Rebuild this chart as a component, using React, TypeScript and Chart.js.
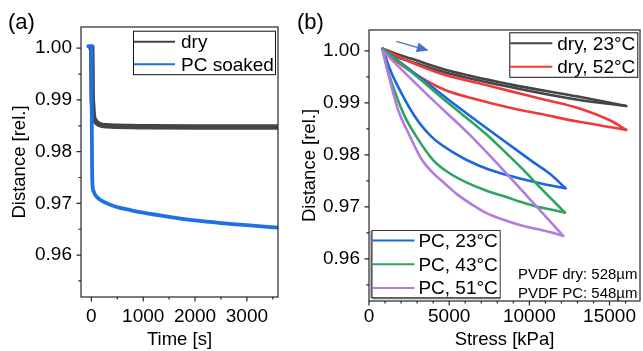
import React, { useEffect, useRef } from 'react';
import { Chart, registerables } from 'chart.js';

Chart.register(...registerables);

const FONT = '"Liberation Sans", Arial, Helvetica, sans-serif';

// ---------------- Panel (a): distance vs time ----------------
const timeDry = [-5, 8, 15, 25, 40, 60, 104, 168, 300, 490, 800, 1133, 2000, 3000, 3600];
const distDry = [1.0, 1.0, 0.9915, 0.989, 0.9868, 0.9862, 0.9856, 0.9852, 0.985, 0.9849, 0.98485, 0.9848, 0.98475, 0.98475, 0.98475];
const timePC = [-60, 4, 8, 15, 27, 50, 71, 110, 168, 300, 490, 750, 1003, 1500, 2000, 2500, 3000, 3600];
const distPC = [1.0004, 1.0004, 0.985, 0.976, 0.973, 0.9722, 0.9717, 0.9712, 0.9707, 0.97, 0.9693, 0.9687, 0.9682, 0.9674, 0.9667, 0.9662, 0.9658, 0.9653];

const timeTicks = [0, 1000, 2000, 3000];
const timeMinor = [500, 1500, 2500, 3500];
const distTicks = [0.96, 0.97, 0.98, 0.99, 1.0];
const distMinor = [0.955, 0.965, 0.975, 0.985, 0.995];

// ---------------- Panel (b): distance vs stress (hysteresis loops) ----------------
const dry23UpStress = [855, 2000, 2620, 4705, 8865, 13030, 16040];
const dry23UpDist = [1.0004, 0.9991, 0.9985, 0.9964, 0.9935, 0.9912, 0.9894];
const dry23DownStress = [855, 2000, 2620, 4705, 8865, 13030, 16040];
const dry23DownDist = [1.0004, 0.9985, 0.9979, 0.9959, 0.993, 0.9906, 0.9894];

const dry52UpStress = [855, 1500, 2620, 4705, 6785, 8865, 10950, 13030, 15110, 16040];
const dry52UpDist = [1.0004, 0.9994, 0.9978, 0.9954, 0.9938, 0.9922, 0.9906, 0.989, 0.9865, 0.9848];
const dry52DownStress = [855, 1500, 2640, 4705, 6785, 8865, 10950, 13030, 15110, 16040];
const dry52DownDist = [1.0004, 0.9985, 0.996, 0.9925, 0.9906, 0.989, 0.9877, 0.9864, 0.9853, 0.9848];

const pc23UpStress = [855, 3000, 5000, 7830, 10240, 11300, 12250];
const pc23UpDist = [1.0004, 0.9953, 0.9905, 0.984, 0.9786, 0.9763, 0.9736];
const pc23DownStress = [855, 1300, 1810, 2850, 3890, 5350, 6800, 8160, 10000, 11000, 12250];
const pc23DownDist = [1.0004, 0.9965, 0.9931, 0.9874, 0.9835, 0.9803, 0.978, 0.9765, 0.975, 0.9743, 0.9736];

const pc43UpStress = [855, 3000, 5000, 7300, 8600, 9600, 10800, 12220];
const pc43UpDist = [1.0004, 0.995, 0.9898, 0.984, 0.9802, 0.9772, 0.9733, 0.9689];
const pc43DownStress = [855, 1100, 1500, 2230, 2935, 4000, 5000, 6000, 7330, 8470, 9410, 10500, 11490, 12220];
const pc43DownDist = [1.0004, 0.997, 0.9931, 0.9874, 0.9836, 0.979, 0.9765, 0.9748, 0.9731, 0.972, 0.971, 0.97, 0.9694, 0.9689];

const pc51UpStress = [855, 3890, 6270, 8160, 10000, 12110];
const pc51UpDist = [1.0, 0.9908, 0.9839, 0.9778, 0.9716, 0.9644];
const pc51DownStress = [855, 1190, 1810, 2520, 3270, 4000, 4725, 5500, 6500, 7330, 8300, 9410, 10240, 11200, 12110];
const pc51DownDist = [1.0, 0.9957, 0.9887, 0.9838, 0.9792, 0.9765, 0.9745, 0.9724, 0.9703, 0.9688, 0.9676, 0.9665, 0.9659, 0.9652, 0.9644];

const stressTicks = [0, 5000, 10000, 15000];
const stressMinor = [1000, 2000, 3000, 4000, 6000, 7000, 8000, 9000, 11000, 12000, 13000, 14000, 16000];

const arrowStress = [1710, 3727];
const arrowDist = [1.0018, 1.00006];

const C_DRY = '#454545';
const C_PC_SOAK = '#1f6fe6';
const C_RED = '#f03a3a';
const C_BLUE = '#1c66e2';
const C_GREEN = '#2ea462';
const C_PURPLE = '#b57ae0';

const pts = (xs: number[], ys: number[]) => xs.map((x, i) => ({ x, y: ys[i] }));

function drawFrameTicks(chart: any, xMaj: number[], xMin: number[], yMaj: number[], yMin: number[]) {
  const { ctx, chartArea: a, scales } = chart;
  const xs = scales.x;
  const ys = scales.y;
  ctx.save();
  ctx.strokeStyle = '#262626';
  ctx.lineWidth = 1.2;
  ctx.strokeRect(a.left, a.top, a.right - a.left, a.bottom - a.top);
  ctx.beginPath();
  xMaj.forEach((v) => { const p = xs.getPixelForValue(v); ctx.moveTo(p, a.bottom); ctx.lineTo(p, a.bottom + 4.5); });
  xMin.forEach((v) => { const p = xs.getPixelForValue(v); ctx.moveTo(p, a.bottom); ctx.lineTo(p, a.bottom + 2.6); });
  yMaj.forEach((v) => { const p = ys.getPixelForValue(v); ctx.moveTo(a.left, p); ctx.lineTo(a.left - 4.5, p); });
  yMin.forEach((v) => { const p = ys.getPixelForValue(v); ctx.moveTo(a.left, p); ctx.lineTo(a.left - 2.6, p); });
  ctx.stroke();
  ctx.restore();
}

function drawLegend(ctx: any, left: number, top: number, width: number, height: number,
  rows: { label: string; color: string }[], rowOffsets: number[], lineLen: number, textGap: number, soft: boolean) {
  ctx.save();
  ctx.fillStyle = '#fff';
  ctx.fillRect(left, top, width, height);
  if (soft) {
    ctx.strokeStyle = '#8a8a8a';
    ctx.lineWidth = 2;
    ctx.beginPath();
    ctx.moveTo(left + 1, top + height);
    ctx.lineTo(left + width, top + height);
    ctx.moveTo(left, top + 1);
    ctx.lineTo(left, top + height);
    ctx.stroke();
  }
  ctx.strokeStyle = soft ? '#3a3a3a' : '#111';
  ctx.lineWidth = 1;
  ctx.strokeRect(left + 0.5, top + 0.5, width - 1, height - 1);
  ctx.font = `19px ${FONT}`;
  ctx.textBaseline = 'middle';
  ctx.textAlign = 'left';
  rows.forEach((r, i) => {
    const y = top + rowOffsets[i];
    ctx.strokeStyle = r.color;
    ctx.lineWidth = 2;
    ctx.beginPath();
    ctx.moveTo(left + 1, y);
    ctx.lineTo(left + 1 + lineLen, y);
    ctx.stroke();
    ctx.fillStyle = '#000';
    ctx.fillText(r.label, left + 1 + lineLen + textGap, y + 1);
  });
  ctx.restore();
}

function axisCommon(min: number, max: number, ticks: number[], fmt: (v: number) => string, pad: number) {
  return {
    type: 'linear' as const,
    min,
    max,
    grid: { display: false, drawTicks: false },
    border: { display: false },
    afterBuildTicks: (s: any) => { s.ticks = ticks.map((v) => ({ value: v })); },
    ticks: {
      font: { family: FONT, size: 19 },
      color: '#000',
      padding: pad,
      maxRotation: 0,
      autoSkip: false,
      callback: (v: any) => fmt(Number(v)),
    },
  };
}

function PanelA() {
  const ref = useRef<HTMLCanvasElement>(null);
  useEffect(() => {
    const plugin = {
      id: 'decorA',
      afterDraw(chart: any) {
        const { ctx, chartArea: a } = chart;
        drawFrameTicks(chart, timeTicks, timeMinor, distTicks, distMinor);
        drawLegend(ctx, a.right - 145, a.top + 3.7, 143, 44.5,
          [{ label: 'dry', color: C_DRY }, { label: 'PC soaked', color: C_PC_SOAK }],
          [11, 33.6], 41, 6, false);
        ctx.save();
        ctx.font = `22px ${FONT}`;
        ctx.fillStyle = '#000';
        ctx.textBaseline = 'alphabetic';
        ctx.fillText('(a)', 8, 29);
        ctx.restore();
      },
    };
    const chart = new Chart(ref.current!, {
      type: 'line',
      data: {
        datasets: [
          { label: 'PC soaked', data: pts(timePC, distPC), borderColor: C_PC_SOAK, borderWidth: 3.8, order: 0, cubicInterpolationMode: 'monotone' },
          { label: 'dry', data: pts(timeDry, distDry), borderColor: C_DRY, borderWidth: 5.5, order: 1, cubicInterpolationMode: 'monotone' },
        ],
      },
      options: {
        animation: false,
        responsive: false,
        devicePixelRatio: 1,
        parsing: false,
        layout: { padding: { top: 27, right: 12, left: 0, bottom: 0 } },
        elements: { point: { radius: 0 }, line: { borderCapStyle: 'round' } },
        plugins: { legend: { display: false }, tooltip: { enabled: false } },
        scales: {
          x: {
            ...axisCommon(-200, 3600, timeTicks, (v) => String(v), 8),
            afterFit: (s: any) => { s.height = 54; },
            title: { display: true, text: 'Time [s]', color: '#000', font: { family: FONT, size: 18.5 }, padding: { top: 2, bottom: 0 } },
          },
          y: {
            ...axisCommon(0.9519, 1.0041, distTicks, (v) => v.toFixed(2), 9),
            afterFit: (s: any) => { s.width = 81; },
            title: { display: true, text: 'Distance [rel.]', color: '#000', font: { family: FONT, size: 18.5 }, padding: { top: 9, bottom: 0 } },
          },
        },
      } as any,
      plugins: [plugin],
    });
    return () => chart.destroy();
  }, []);
  return <canvas ref={ref} width={290} height={351} style={{ position: 'absolute', left: 0, top: 0, width: 290, height: 351 }} />;
}

function PanelB() {
  const ref = useRef<HTMLCanvasElement>(null);
  useEffect(() => {
    const plugin = {
      id: 'decorB',
      afterDraw(chart: any) {
        const { ctx, chartArea: a, scales } = chart;
        drawFrameTicks(chart, stressTicks, stressMinor, distTicks, distMinor);
        drawLegend(ctx, a.right - 130.7, a.top + 2.3, 129, 45.5,
          [{ label: 'dry, 23°C', color: C_DRY }, { label: 'dry, 52°C', color: C_RED }],
          [11, 34.4], 42, 5, false);
        drawLegend(ctx, a.left + 2.4, a.bottom - 71, 129.3, 68.3,
          [{ label: 'PC, 23°C', color: C_BLUE }, { label: 'PC, 43°C', color: C_GREEN }, { label: 'PC, 51°C', color: C_PURPLE }],
          [10.5, 34.3, 58], 42, 4, true);
        ctx.save();
        ctx.fillStyle = '#000';
        ctx.font = `15px ${FONT}`;
        ctx.textAlign = 'right';
        ctx.textBaseline = 'alphabetic';
        ctx.fillText('PVDF dry: 528µm', a.right - 2.5, a.bottom - 21.7);
        ctx.fillText('PVDF PC: 548µm', a.right - 2.5, a.bottom - 3.3);
        ctx.textAlign = 'left';
        ctx.font = `22px ${FONT}`;
        ctx.fillText('(b)', 7, 29);
        // arrow
        const x0 = scales.x.getPixelForValue(arrowStress[0]);
        const y0 = scales.y.getPixelForValue(arrowDist[0]);
        const x1 = scales.x.getPixelForValue(arrowStress[1]);
        const y1 = scales.y.getPixelForValue(arrowDist[1]);
        const ang = Math.atan2(y1 - y0, x1 - x0);
        const hl = 12, hw = 5;
        const bx = x1 - hl * Math.cos(ang), by = y1 - hl * Math.sin(ang);
        ctx.strokeStyle = '#4472c4';
        ctx.fillStyle = '#4472c4';
        ctx.lineWidth = 1.3;
        ctx.beginPath();
        ctx.moveTo(x0, y0);
        ctx.lineTo(bx, by);
        ctx.stroke();
        ctx.beginPath();
        ctx.moveTo(x1, y1);
        ctx.lineTo(bx + hw * Math.sin(ang), by - hw * Math.cos(ang));
        ctx.lineTo(bx - hw * Math.sin(ang), by + hw * Math.cos(ang));
        ctx.closePath();
        ctx.fill();
        ctx.restore();
      },
    };
    const ds = (data: any[], color: string, order: number) => ({
      data, borderColor: color, borderWidth: 2.6, order, cubicInterpolationMode: 'monotone' as const,
    });
    const chart = new Chart(ref.current!, {
      type: 'line',
      data: {
        datasets: [
          ds(pts(pc51UpStress, pc51UpDist), C_PURPLE, 0),
          ds(pts(pc51DownStress, pc51DownDist), C_PURPLE, 0),
          ds(pts(pc43UpStress, pc43UpDist), C_GREEN, 1),
          ds(pts(pc43DownStress, pc43DownDist), C_GREEN, 1),
          ds(pts(pc23UpStress, pc23UpDist), C_BLUE, 2),
          ds(pts(pc23DownStress, pc23DownDist), C_BLUE, 2),
          ds(pts(dry52UpStress, dry52UpDist), C_RED, 3),
          ds(pts(dry52DownStress, dry52DownDist), C_RED, 3),
          ds(pts(dry23UpStress, dry23UpDist), C_DRY, 4),
          ds(pts(dry23DownStress, dry23DownDist), C_DRY, 4),
        ],
      },
      options: {
        animation: false,
        responsive: false,
        devicePixelRatio: 1,
        parsing: false,
        layout: { padding: { top: 30, right: 3, left: 0, bottom: 0 } },
        elements: { point: { radius: 0 }, line: { borderCapStyle: 'round', borderJoinStyle: 'round' } },
        plugins: { legend: { display: false }, tooltip: { enabled: false } },
        scales: {
          x: {
            ...axisCommon(0, 16900, stressTicks, (v) => String(v), 4),
            afterFit: (s: any) => { s.height = 50; },
            title: { display: true, text: 'Stress [kPa]', color: '#000', font: { family: FONT, size: 18.5 }, padding: { top: -2, bottom: 0 } },
          },
          y: {
            ...axisCommon(0.9519, 1.004, distTicks, (v) => v.toFixed(2), 9),
            afterFit: (s: any) => { s.width = 79; },
            title: { display: true, text: 'Distance [rel.]', color: '#000', font: { family: FONT, size: 18.5 }, padding: { top: 9, bottom: 0 } },
          },
        },
      } as any,
      plugins: [plugin],
    });
    return () => chart.destroy();
  }, []);
  return <canvas ref={ref} width={353} height={351} style={{ position: 'absolute', left: 290, top: 0, width: 353, height: 351 }} />;
}

export default function App() {
  return (
    <div style={{ position: 'absolute', left: 0, top: 0, width: 643, height: 351, background: '#fff', overflow: 'hidden' }}>
      <PanelA />
      <PanelB />
    </div>
  );
}
